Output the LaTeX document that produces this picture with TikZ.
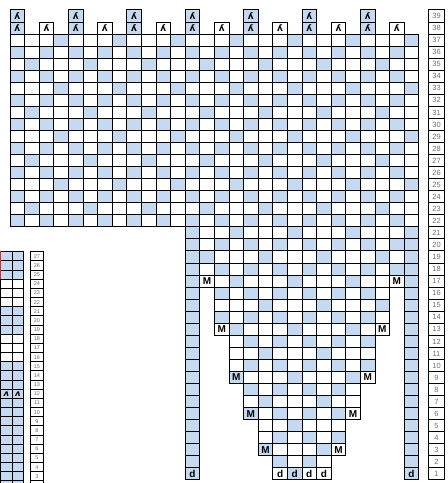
\documentclass[tikz,border=0pt]{standalone}
\usepackage{fontspec}
\setmainfont{Liberation Sans}
\newfontfamily\symfont{DejaVu Sans}
\usetikzlibrary{positioning}
\definecolor{cellblue}{RGB}{197,217,241}
\definecolor{numgray}{RGB}{110,110,110}
\definecolor{edgered}{RGB}{220,40,40}

% one chart cell, snapped to whole pixels: column, row, fill
\newcommand{\maincell}[3]{%
    \pgfmathsetmacro\cxa{floor(10+14.6*#1)+0.5}%
    \pgfmathsetmacro\cxb{floor(10+14.6*(#1+1))+0.5}%
    \pgfmathsetmacro\cya{floor(12.05*#2-9)+0.5}%
    \pgfmathsetmacro\cyb{floor(12.05*(#2+1)-9)+0.5}%
    \draw[cellline, fill=#3] (\cxa,\cya) rectangle (\cxb,\cyb);}
% same for the small chart on the left: x from, x to, row, fill
\newcommand{\leftcell}[4]{%
    \pgfmathsetmacro\cya{floor(9.17*#3-25.46)+0.5}%
    \pgfmathsetmacro\cyb{floor(9.17*(#3+1)-25.46)+0.5}%
    \draw[#4] (#1,\cya) rectangle (#2,\cyb);}

\begin{document}
\begin{tikzpicture}[x=1pt, y=1pt,
    cellline/.style={draw=black, line width=1.4pt},
    numbox/.style={draw=black, line width=0.9pt, fill=white},
    numtext/.style={text=numgray, font=\fontsize{7.5}{7.5}\selectfont, inner sep=0pt},
    smallnum/.style={text=numgray, font=\fontsize{5.5}{5.5}\selectfont, inner sep=0pt},
    stitchtext/.style={font=\fontsize{10}{10}\selectfont\bfseries, inner sep=0pt},
    dectext/.style={font=\fontsize{9}{9}\symfont\bfseries, inner sep=0pt}
]
\clip (0,0) rectangle (448,483);

% chart on the left, cut off by the page
\foreach \r in {2,...,27} {
    \leftcell{-10.5}{0.5}{\r}{fill=cellblue, draw=none}
    \leftcell{0.5}{12.5}{\r}{cellline, fill=cellblue}
    \leftcell{12.5}{23.5}{\r}{cellline, fill=cellblue}
    \leftcell{30.5}{43.5}{\r}{numbox}
    \node[smallnum] (ln\r) at (37,9.17*\r-20.9) {\r};
}
\foreach \r in {16,17,18,22,23,24} {
    \leftcell{0.5}{12.5}{\r}{cellline, fill=white}
    \leftcell{12.5}{23.5}{\r}{cellline, fill=white}
}
\draw[edgered, line width=1.4pt] (0.5,203.5) -- (0.5,231.5);
\node[font=\fontsize{8.5}{8.5}\symfont\bfseries\itshape, inner sep=0pt] (lk1) at (6.5,89.1) {ʌ};
\node[font=\fontsize{8.5}{8.5}\symfont\bfseries\itshape, inner sep=0pt] (lk2) at (18,89.1) {ʌ};

% main chart: body above the split
\foreach \r in {22,...,37}
    \foreach \c in {0,...,27} {
        \pgfmathtruncatemacro\isblue{ifthenelse(mod(\r,2)==0, mod(\c+1,2), mod(\c-\r+42,4)==0)}
        \ifnum\isblue=1 \def\cellfill{cellblue}\else\def\cellfill{white}\fi
        \maincell{\c}{\r}{\cellfill}
    }
% narrowing part
\foreach \ra/\rb/\ca/\cb in {17/21/13/26, 13/16/14/25, 9/12/15/24, 6/8/16/23, 3/5/17/22, 1/2/18/21}
    \foreach \r in {\ra,...,\rb}
        \foreach \c in {\ca,...,\cb} {
            \pgfmathtruncatemacro\isblue{ifthenelse(mod(\r,2)==0, mod(\c+1,2), mod(\c-\r+42,4)==0)}
            \ifnum\isblue=1 \def\cellfill{cellblue}\else\def\cellfill{white}\fi
            \maincell{\c}{\r}{\cellfill}
        }
% side bands
\foreach \r in {1,...,21} {
    \maincell{12}{\r}{cellblue}
    \maincell{27}{\r}{cellblue}
}
% top rows
\foreach \c in {0,4,...,24} {
    \maincell{\c}{38}{cellblue}
    \maincell{\c}{39}{cellblue}
    \node[dectext] (dec\c-38) at (10+14.6*\c+7.3,12.05*38.5-9) {ʎ};
    \node[dectext] (dec\c-39) at (10+14.6*\c+7.3,12.05*39.5-9) {ʎ};
}
\foreach \c in {2,6,...,26} {
    \maincell{\c}{38}{white}
    \node[dectext] (dec\c-38) at (10+14.6*\c+7.3,12.05*38.5-9) {ʎ};
}
% M stitches and bottom row
\foreach \c/\r [count=\i] in {13/17, 26/17, 14/13, 25/13, 15/9, 24/9, 16/6, 23/6, 17/3, 22/3}
    \node[stitchtext] (m\i) at (10+14.6*\c+7.3,12.05*\r-3) {M};
\foreach \c [count=\i] in {12,18,19,20,21,27}
    \node[stitchtext] (d\i) at (10+14.6*\c+7.3,12.05-3) {d};
% row numbers
\foreach \r in {1,...,39} {
    \pgfmathsetmacro\cya{floor(12.05*\r-9)+0.5}
    \pgfmathsetmacro\cyb{floor(12.05*(\r+1)-9)+0.5}
    \draw[numbox] (428.5,\cya) rectangle (444.5,\cyb);
    \node[numtext] (n\r) at (436.5,12.05*\r-3) {\r};
}
\end{tikzpicture}
\end{document}
